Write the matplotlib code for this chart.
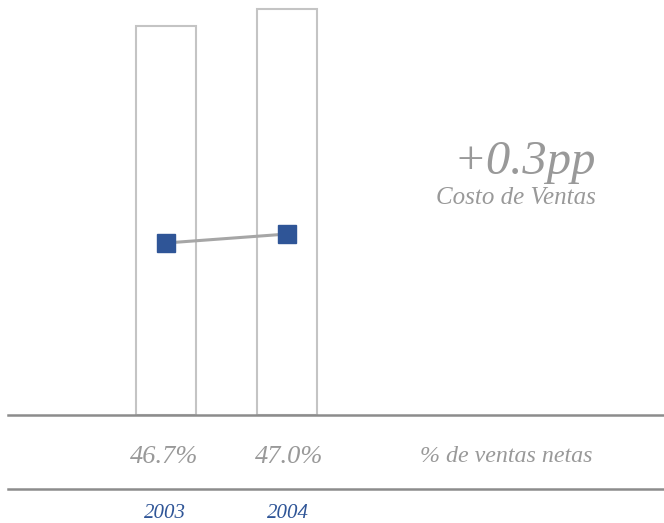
import matplotlib
matplotlib.use("Agg")
import matplotlib.pyplot as plt
from matplotlib.lines import Line2D

years = ["2003", "2004"]
bar_values = [95.8, 100.0]          # relative sales volume (bars)
cost_pct = [46.7, 47.0]             # costo de ventas, % de ventas netas
pct_labels = ["46.7%", "47.0%"]
delta_label = "+0.3pp"
delta_caption = "Costo de Ventas"
row_label = "% de ventas netas"

W, H = 664, 523
fig = plt.figure(figsize=(W / 100, H / 100), dpi=100)
base_px = 415
ax = fig.add_axes([0, (H - base_px) / H, 1, base_px / H])
ax.set_axis_off()

x = list(range(len(years)))
ax.bar(x, bar_values, width=0.494, facecolor="white", edgecolor="#C4C4C4", linewidth=1.5)
ax.set_xlim(-1.366, 4.099)
ax.set_ylim(0, 100 * base_px / 406)

ax2 = ax.twinx()
ax2.set_axis_off()
ymin = 46.7 - 172 / 30
ax2.set_ylim(ymin, ymin + base_px / 30)
ax2.plot(x, cost_pct, color="#A6A6A6", linewidth=2.2, marker="s", markersize=13,
         markerfacecolor="#2F5597", markeredgecolor="#2F5597", zorder=3)

grey = "#999999"
serif = ["Liberation Serif", "DejaVu Serif"]

# horizontal rules
for yp in (415, 489):
    fig.add_artist(Line2D([8 / W, 1], [1 - yp / H, 1 - yp / H], color="#8C8C8C", linewidth=1.8))

def fx(px):
    return px / W

def fy(py):
    return 1 - py / H

pct_dx = [-2, 2]
year_dx = [-1, 1]
for i, lbl in enumerate(pct_labels):
    xp = ax.transData.transform((x[i], 0))[0]
    fig.text((xp + pct_dx[i]) / W, fy(457), lbl, ha="center", va="center", fontsize=19,
             style="italic", color=grey, family=serif)
    fig.text((xp + year_dx[i]) / W, fy(513), years[i], ha="center", va="center", fontsize=15,
             style="italic", color="#2F5597", family=serif)

fig.text(fx(506), fy(457), row_label, ha="center", va="center", fontsize=17.3,
         style="italic", color=grey, family=serif)
fig.text(fx(596), fy(162), delta_label, ha="right", va="center", fontsize=35,
         style="italic", color=grey, family=serif)
fig.text(fx(596), fy(198), delta_caption, ha="right", va="center", fontsize=18,
         style="italic", color=grey, family=serif)

fig.savefig("out.png", dpi=100)
